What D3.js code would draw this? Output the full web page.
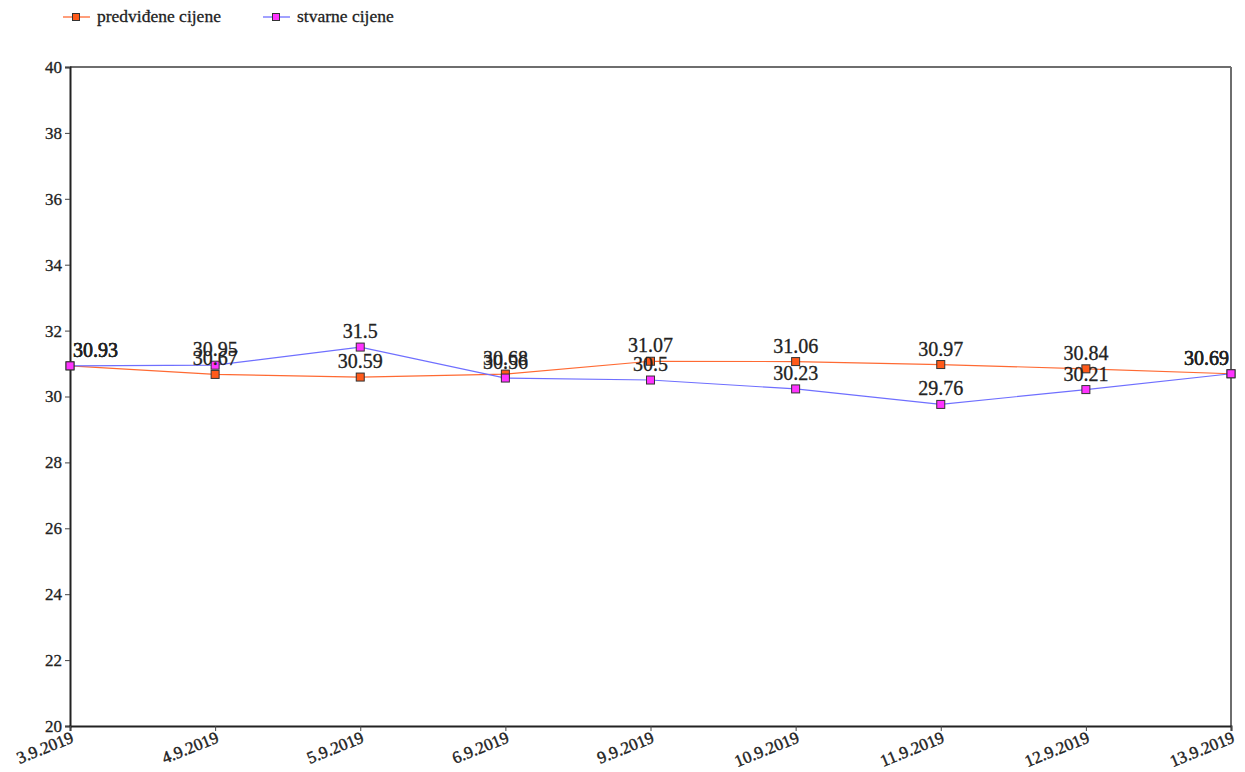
<!DOCTYPE html>
<html><head><meta charset="utf-8">
<script src="https://cdn.jsdelivr.net/npm/d3@7"></script>
<style>body{margin:0;background:#fff;}svg{display:block;}
svg text{font-family:"Liberation Serif","Times New Roman","DejaVu Serif",serif;}</style>
</head><body><svg id="c" width="1245" height="772"></svg>
<script>
const dates = ["3.9.2019","4.9.2019","5.9.2019","6.9.2019","9.9.2019","10.9.2019","11.9.2019","12.9.2019","13.9.2019"];
const predicted = [30.93,30.67,30.59,30.68,31.07,31.06,30.97,30.84,30.69];
const actual = [30.93,30.95,31.5,30.56,30.5,30.23,29.76,30.21,30.69];
const yTicks = [20,22,24,26,28,30,32,34,36,38,40];
const seriesNames = ["predviđene cijene","stvarne cijene"];

const svg = d3.select("#c");
const m = {l:70, r:1231, t:67, b:726};
const x = d3.scalePoint().domain(dates).range([m.l, m.r]).padding(0);
const y = d3.scaleLinear().domain([20,40]).range([m.b, m.t]);
const font = "Liberation Serif, Times New Roman, DejaVu Serif, serif";

// frame top/right
svg.append("line").attr("x1",m.l).attr("x2",m.r).attr("y1",m.t).attr("y2",m.t).attr("stroke","#6e6e6e").attr("stroke-width",2);
svg.append("line").attr("x1",m.r).attr("x2",m.r).attr("y1",m.t).attr("y2",m.b).attr("stroke","#6e6e6e").attr("stroke-width",2);

const yAxis = svg.append("g").attr("transform",`translate(${m.l},0)`)
  .call(d3.axisLeft(y).tickValues(yTicks).tickSize(5).tickPadding(3));
yAxis.attr("font-family",null);
yAxis.select(".domain").attr("stroke","#222").attr("stroke-width",2);
yAxis.selectAll(".tick line").attr("stroke","#444");
yAxis.selectAll("text").style("font-family",font).attr("font-size",17).attr("fill","#222")
  .attr("stroke","#222").attr("stroke-width",0.3);

const xAxis = svg.append("g").attr("transform",`translate(0,${m.b})`)
  .call(d3.axisBottom(x).tickSize(5).tickPadding(4));
xAxis.attr("font-family",null);
xAxis.select(".domain").attr("stroke","#222").attr("stroke-width",2);
xAxis.selectAll(".tick line").attr("stroke","#444");
xAxis.selectAll("text").style("font-family",font).attr("font-size",17).attr("fill","#222")
  .attr("stroke","#222").attr("stroke-width",0.4)
  .attr("text-anchor","end").attr("dy","0.6em").attr("y",6).attr("x",-2)
  .attr("transform","rotate(-22)");

const series = [
  {vals: predicted, line:"#ff6a33", fill:"#ff5a1a"},
  {vals: actual, line:"#6f6fff", fill:"#ff33ff"}
];
const lineGen = d3.line().x((d,i)=>x(dates[i])).y(d=>y(d));
series.forEach(s=>{
  svg.append("path").datum(s.vals).attr("d",lineGen).attr("fill","none").attr("stroke",s.line).attr("stroke-width",1.2);
});
series.forEach(s=>{
  svg.selectAll(null).data(s.vals).enter().append("rect")
    .attr("x",(d,i)=>x(dates[i])-4).attr("y",d=>y(d)-4).attr("width",8).attr("height",8)
    .attr("fill",s.fill).attr("stroke","#333").attr("stroke-width",1);
});
series.forEach(s=>{
  svg.selectAll(null).data(s.vals).enter().append("text")
    .attr("x",(d,i)=>{const px=x(dates[i]); return i===0? px+3 : (i===dates.length-1? px-2 : px);})
    .attr("y",d=>y(d)-9)
    .attr("text-anchor",(d,i)=> i===0?"start":(i===dates.length-1?"end":"middle"))
    .style("font-family",font).attr("font-size",20).attr("fill","#222")
    .attr("stroke","#222").attr("stroke-width",0.3)
    .text(d=>d);
});

// legend
const leg = svg.append("g");
[{x0:63, s:series[0], name:seriesNames[0]},{x0:263, s:series[1], name:seriesNames[1]}].forEach(o=>{
  leg.append("line").attr("x1",o.x0).attr("x2",o.x0+27).attr("y1",17).attr("y2",17).attr("stroke",o.s.line).attr("stroke-width",1.3);
  leg.append("rect").attr("x",o.x0+9.5).attr("y",13.5).attr("width",7).attr("height",7).attr("fill",o.s.fill).attr("stroke","#333");
  leg.append("text").attr("x",o.x0+34).attr("y",22).style("font-family",font).attr("font-size",17.5).attr("fill","#222")
    .attr("stroke","#222").attr("stroke-width",0.3).text(o.name);
});
</script></body></html>
